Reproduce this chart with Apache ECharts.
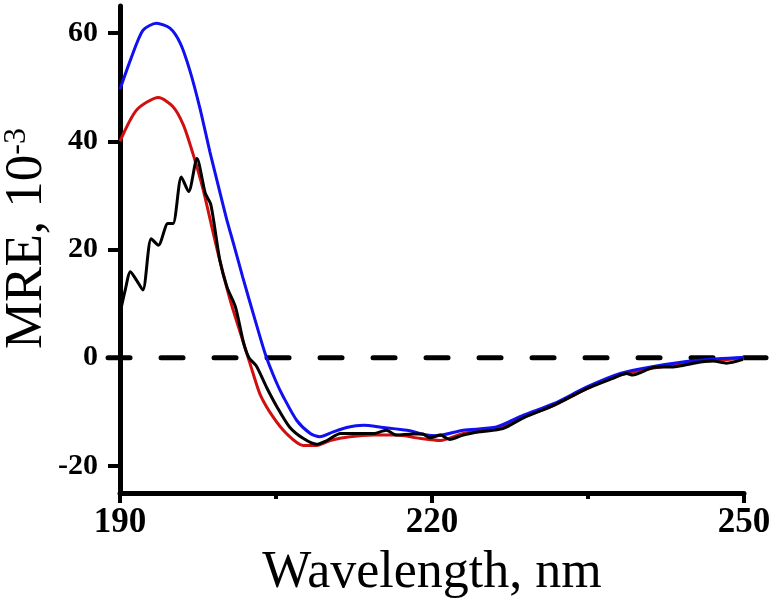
<!DOCTYPE html>
<html>
<head>
<meta charset="utf-8">
<script src="https://cdn.jsdelivr.net/npm/echarts@6/dist/echarts.min.js"></script>
<style>html,body{margin:0;padding:0;background:#fff}#c{width:774px;height:605px}</style>
</head>
<body>
<div id="c"></div>
<script>
// ---- data ----
const blueX = [190, 191, 192.2, 193.5, 194.8, 195.8, 196.7, 197.7, 198.65, 199.5, 200.2, 201.0, 201.8, 203.0, 204.0, 205.0, 205.7, 207.0, 208.3, 209.2, 210.5, 211.8, 213.4, 215.3, 217.6, 219.5, 220.5, 223, 226.2, 228.8, 231.7, 234.9, 238.1, 241.3, 245.4, 250];
const blueY = [49.6, 55.0, 60.5, 61.8, 60.9, 58.1, 53.2, 46.0, 38.0, 31.4, 26.0, 20.5, 14.9, 6.9, 0.5, -4.4, -7.2, -11.6, -14.0, -14.6, -13.7, -12.9, -12.5, -12.9, -13.4, -14.3, -14.4, -13.4, -12.8, -10.6, -8.5, -5.4, -2.9, -1.6, -0.5, 0.1];

const redX = [190, 191.6, 193.7, 195.1, 196.1, 197.0, 198.0, 199.3, 200.6, 202.0, 202.7, 203.5, 204.7, 206.0, 207.6, 208.9, 210.2, 212.1, 214.4, 216.6, 218.8, 220.8, 223, 226.2, 228.8, 231.7, 234.9, 238.1, 241.3, 245.4, 250];
const redY = [40.0, 45.8, 48.1, 46.4, 43.0, 37.8, 31.0, 20.3, 10.6, 2.0, -2.3, -6.9, -10.9, -14.0, -16.2, -16.2, -15.3, -14.6, -14.3, -14.3, -14.9, -15.3, -14.0, -13.0, -11.0, -8.8, -5.7, -3.2, -1.9, -0.8, -0.1];

const blackX = [190, 190.5, 191, 191.6, 192.2, 193.0, 193.7, 194.6, 195.1, 195.9, 196.6, 197.4, 198.2, 198.7, 199.0, 199.6, 200.3, 201.1, 201.9, 202.4, 203.1, 204.1, 205.1, 206.3, 207.6, 208.9, 209.9, 211.2, 212.8, 214.4, 215.6, 216.6, 218.2, 219.1, 219.8, 220.8, 221.7, 223, 224.6, 226.8, 228.8, 231.7, 234.9, 237.4, 238.7, 239.3, 241.3, 243.2, 244.2, 245.8, 247.0, 248.3, 249.9];
const blackY = [8.2, 12.5, 15.9, 14.3, 12.5, 22.0, 20.8, 24.8, 24.8, 33.4, 30.7, 36.8, 30.4, 28.5, 25.4, 18.0, 13.0, 9.4, 2.6, 0.0, -1.5, -5.5, -9.1, -12.8, -14.9, -16.0, -15.3, -14.0, -14.0, -14.0, -13.4, -14.3, -14.1, -14.1, -14.8, -14.3, -15.1, -14.3, -13.7, -13.1, -11.1, -8.8, -5.7, -3.8, -2.9, -3.2, -1.8, -1.7, -1.4, -0.8, -0.6, -1.0, -0.3];

// zero reference line (dashed), in data units
const zeroLineX = [188.85, 252.9];
const zeroLineY = [0, 0];

const yTicks = [-20, 0, 20, 40, 60];

function pairs(xs, ys) { return xs.map((x, i) => [x, ys[i]]); }

const font = "'Liberation Serif','Times New Roman',serif";
const chart = echarts.init(document.getElementById('c'), null, {renderer: 'canvas'});
const X_MIN = 190, X_MAX = 250;
chart.setOption({
  animation: false,
  backgroundColor: '#fff',
  grid: {left: 120, right: 30, top: 6, bottom: 112, containLabel: false, outerBoundsMode: 'none'},
  xAxis: {
    type: 'value', min: X_MIN, max: X_MAX, interval: 30,
    axisLine: {show: true, onZero: false, lineStyle: {color: '#000', width: 5, cap: 'round'}},
    axisTick: {show: true, length: 10, lineStyle: {color: '#000', width: 4}},
    minorTick: {show: true, splitNumber: 2, length: 6, lineStyle: {color: '#000', width: 4}},
    splitLine: {show: false},
    axisLabel: {color: '#000', fontFamily: font, fontWeight: 'bold', fontSize: 35, margin: 12,
      alignMinLabel: 'center', alignMaxLabel: 'center', hideOverlap: false},
    name: 'Wavelength, nm', nameLocation: 'middle', nameGap: 54, nameMoveOverlap: false,
    nameTextStyle: {color: '#000', fontFamily: font, fontSize: 52}
  },
  yAxis: {
    type: 'value', min: -25, max: 65,
    axisLine: {show: true, onZero: false, lineStyle: {color: '#000', width: 5, cap: 'round'}},
    axisTick: {show: true, length: 12, customValues: yTicks, lineStyle: {color: '#000', width: 4}},
    splitLine: {show: false},
    axisLabel: {color: '#000', fontFamily: font, fontWeight: 'bold', fontSize: 30, margin: 22, customValues: yTicks},
    name: 'MRE, 10{sup|-3}', nameLocation: 'middle', nameGap: 66, nameRotate: 90, nameMoveOverlap: false,
    nameTextStyle: {color: '#000', fontFamily: font, fontSize: 53, padding: [0, 0, 0, 22],
      rich: {sup: {fontFamily: font, fontSize: 32, color: '#000', verticalAlign: 'top', padding: [0, 0, 20, 0]}}}
  },
  series: [
    {type: 'line', data: pairs(redX, redY), symbol: 'none', smooth: 0.25,
     lineStyle: {color: '#d01010', width: 3}, z: 2},
    {type: 'line', data: pairs(blueX, blueY), symbol: 'none', smooth: 0.25,
     lineStyle: {color: '#1010f0', width: 3}, z: 3},
    {type: 'line', data: pairs(blackX, blackY), symbol: 'none', smooth: 0.25,
     lineStyle: {color: '#000', width: 3}, z: 4}
  ]
});

// dashed zero line: map its data ends through the chart's x scale (linear extrapolation past the axis ends)
const a = chart.convertToPixel({gridIndex: 0}, [X_MIN, zeroLineY[0]]);
const b = chart.convertToPixel({gridIndex: 0}, [X_MAX, zeroLineY[1]]);
const pxPerUnit = (b[0] - a[0]) / (X_MAX - X_MIN);
const x1 = a[0] + (zeroLineX[0] - X_MIN) * pxPerUnit;
const x2 = a[0] + (zeroLineX[1] - X_MIN) * pxPerUnit;
chart.setOption({
  graphic: [{
    type: 'line', z: 1, silent: true,
    shape: {x1: x1, y1: a[1], x2: x2, y2: b[1]},
    style: {stroke: '#000', lineWidth: 5, lineDash: [22, 31], lineCap: 'round'}
  }]
});
</script>
</body>
</html>
